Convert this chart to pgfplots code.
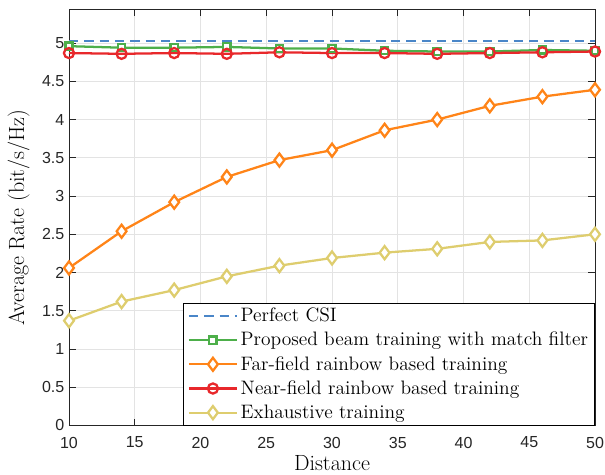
\documentclass[border=0pt]{standalone}
\usepackage{fontspec}
\setsansfont{Liberation Sans}
\usepackage{pgfplots}
\pgfplotsset{compat=1.18}

\definecolor{csiblue}{HTML}{4A86C8}
\definecolor{propgreen}{HTML}{4DAF4A}
\definecolor{farorange}{HTML}{FF8418}
\definecolor{nearred}{HTML}{E8282B}
\definecolor{exhyellow}{HTML}{DECD6E}
\definecolor{axgray}{HTML}{262626}

\begin{document}
\begin{tikzpicture}
  % keep the reference margins around the axis box
  \useasboundingbox (-51.75pt,-37.1pt) rectangle (402pt,319.1pt);
  \begin{axis}[
      scale only axis,
      width=394.5pt, height=312pt,
      xmin=10, xmax=50,
      ymin=0, ymax=5.44,
      xtick={10,15,...,50},
      ytick={0,0.5,...,5},
      yticklabels={0,0.5,1,1.5,2,2.5,3,3.5,4,4.5,5},
      grid=major,
      grid style={gray!22, line width=0.6pt},
      axis line style={axgray, line width=0.6pt},
      tick style={axgray, line width=0.6pt},
      major tick length=5pt,
      tick label style={font=\fontsize{12}{14}\selectfont\sffamily, text=axgray},
      xticklabel style={yshift=-5pt},
      /pgf/number format/assume math mode=true,
      xlabel={Distance},
      ylabel={Average Rate (bit/s/Hz)},
      label style={font=\fontsize{16.5}{19}\selectfont},
      xlabel style={yshift=1.5pt},
      ylabel style={yshift=2.5pt},
      every axis plot/.append style={line width=1.7pt},
      legend cell align=left,
      legend style={at={(1,0)}, anchor=south east,
        draw=black, line width=0.6pt, fill=white,
        font=\fontsize{14.6}{17}\selectfont,
        inner xsep=3pt, inner ysep=1.5pt, row sep=2.4pt},
      legend image code/.code={%
        \draw[mark repeat=2,mark phase=2] plot coordinates {(0pt,0pt) (18pt,0pt) (36pt,0pt)};},
    ]
    \addplot[csiblue, dash pattern=on 7pt off 4.5pt] coordinates {
      (10,5.03)(14,5.03)(18,5.03)(22,5.03)(26,5.03)(30,5.03)
      (34,5.03)(38,5.03)(42,5.03)(46,5.03)(50,5.03)};
    \addlegendentry{Perfect CSI}

    \addplot[propgreen, mark=square*, mark size=2.7pt,
             mark options={solid, fill=white}] coordinates {
      (10,4.96)(14,4.94)(18,4.94)(22,4.95)(26,4.93)(30,4.93)
      (34,4.90)(38,4.89)(42,4.89)(46,4.91)(50,4.90)};
    \addlegendentry{Proposed beam training with match filter}

    \addplot[farorange, mark=diamond*, mark size=4.9pt,
             mark options={solid, fill=white}] coordinates {
      (10,2.06)(14,2.54)(18,2.92)(22,3.25)(26,3.47)(30,3.60)
      (34,3.86)(38,4.00)(42,4.18)(46,4.30)(50,4.39)};
    \addlegendentry{Far-field rainbow based training}

    \addplot[nearred, mark=o, mark size=3.8pt,
             mark options={solid, fill=white}] coordinates {
      (10,4.87)(14,4.86)(18,4.87)(22,4.86)(26,4.88)(30,4.87)
      (34,4.87)(38,4.86)(42,4.87)(46,4.88)(50,4.89)};
    \addlegendentry{Near-field rainbow based training}

    \addplot[exhyellow, mark=diamond*, mark size=4.9pt,
             mark options={solid, fill=white}] coordinates {
      (10,1.37)(14,1.62)(18,1.77)(22,1.95)(26,2.09)(30,2.19)
      (34,2.26)(38,2.31)(42,2.40)(46,2.42)(50,2.50)};
    \addlegendentry{Exhaustive training}
  \end{axis}
\end{tikzpicture}
\end{document}
